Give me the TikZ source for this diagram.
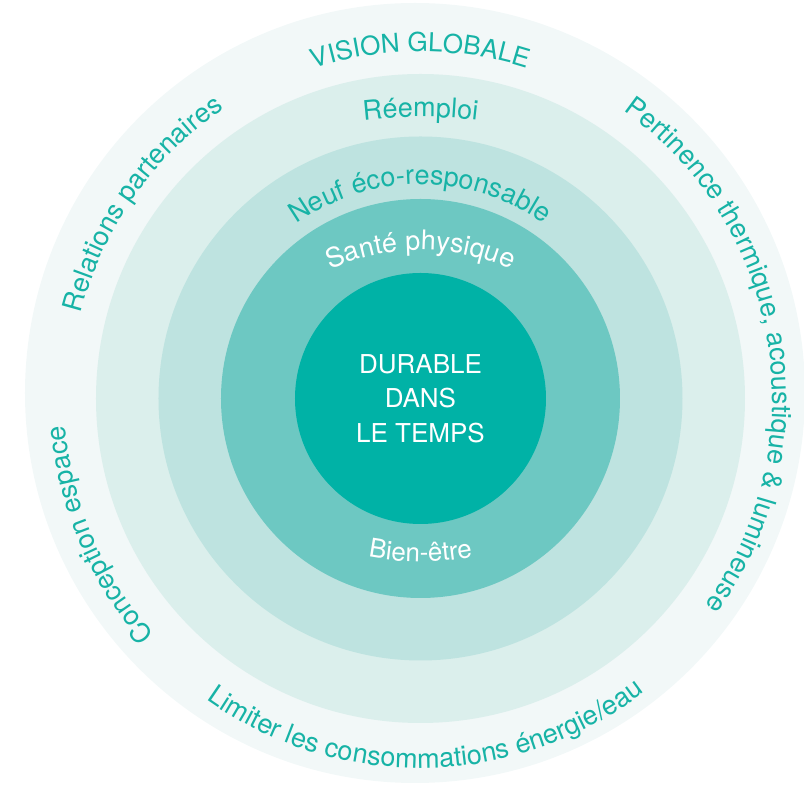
\documentclass[tikz,border=0pt]{standalone}
\usepackage{fontspec}
\setmainfont{TeX Gyre Heros}
\usepackage{xcolor}
\usepackage{tikz}
\usetikzlibrary{decorations.text}
\definecolor{ringout}{HTML}{F2F8F8}
\definecolor{ringfour}{HTML}{DBEFEC}
\definecolor{ringthree}{HTML}{BEE3E0}
\definecolor{ringtwo}{HTML}{6DC8C2}
\definecolor{ringcore}{HTML}{00B2A6}
\definecolor{ringtext}{HTML}{17B3A6}
\newcommand{\lbl}[1]{\fontsize{#1}{#1}\selectfont\color{ringtext}}
\newcommand{\lblw}[1]{\fontsize{#1}{#1}\selectfont\color{white}}

\begin{document}
\begin{tikzpicture}[x=1pt, y=1pt, arctext/.style={decorate, decoration={text along path, text align=center, text={#1}}}]
\useasboundingbox (-420.5,-395.5) rectangle (383.5,398.5);
\clip (-420.5,-395.5) rectangle (383.5,398.5);
\fill[ringout] (-5.5,5.5) circle[radius=390];
\fill[ringfour] (0,0) circle[radius=324.5];
\fill[ringthree] (0,0) circle[radius=262];
\fill[ringtwo] (0,0) circle[radius=199.5];
\node[circle, fill=ringcore, minimum size=251, inner sep=0, text=white, align=center, font=\fontsize{26}{34.5}\selectfont] (core) at (0,0) {DURABLE\\DANS\\LE TEMPS};

\path[arctext={|\lbl{26}|VISION GLOBALE}] (130:347) arc[start angle=130, end angle=50, radius=347];
\path[arctext={|\lbl{27}|Relations partenaires}] (195:350) arc[start angle=195, end angle=95, radius=350];
\path[arctext={|\lbl{27}|Pertinence thermique, acoustique {\&} lumineuse}] (69.45:352) arc[start angle=69.45, end angle=-50.55, radius=352];
\path[arctext={|\lbl{27}|Conception espace}] (243:356) arc[start angle=243, end angle=163, radius=356];
\path[arctext={|\lbl{27}|Limiter les consommations énergie/eau}] (201:369.5) arc[start angle=201, end angle=341, radius=369.5];

\path[arctext={|\lbl{27}|Réemploi}] ([shift={(0,-218.5)}]110:500) arc[start angle=110, end angle=70, radius=500];
\path[arctext={|\lbl{27}|Neuf éco-responsable}] (145:214) arc[start angle=145, end angle=35, radius=214];
\path[arctext={|\lblw{27}|Santé physique}] ([shift={(0,-68.5)}]130:217) arc[start angle=130, end angle=50, radius=217];
\path[arctext={|\lblw{26}|Bien-être}] ([shift={(0,109.8)}]245:273) arc[start angle=245, end angle=295, radius=273];
\end{tikzpicture}
\end{document}
